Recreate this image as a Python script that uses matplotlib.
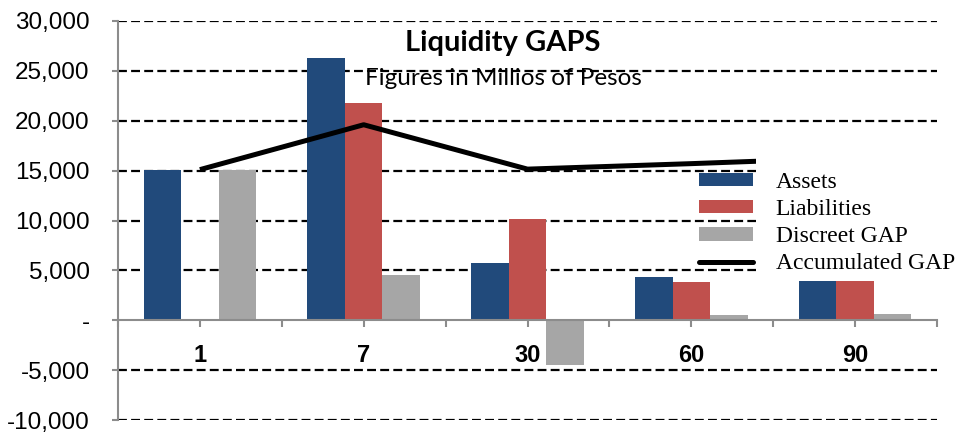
import matplotlib
matplotlib.use("Agg")
import matplotlib.pyplot as plt
from matplotlib.patches import Rectangle
from matplotlib.ticker import FuncFormatter, FixedLocator
import numpy as np

# data (millions of pesos)
categories = ["1", "7", "30", "60", "90"]
assets = [15100, 26300, 5700, 4350, 3950]
liabilities = [0, 21800, 10150, 3800, 3950]
discreet_gap = [15100, 4500, -4450, 550, 600]
accumulated_gap = [15100, 19600, 15150, 15700, 16300]

blue = "#214A7B"
red = "#C0504D"
gray = "#A6A6A6"
axis_gray = "#8C8C8C"

fig = plt.figure(figsize=(9.59, 4.32), dpi=100)
ax = fig.add_axes([118 / 959, 1 - 420 / 432, 819 / 959, 399 / 432])

x = np.arange(len(categories))
w = 0.229
b1 = ax.bar(x - w, assets, w, color=blue, label="Assets", zorder=2)
b2 = ax.bar(x, liabilities, w, color=red, label="Liabilities", zorder=2)
b3 = ax.bar(x + w, discreet_gap, w, color=gray, label="Discreet GAP", zorder=2)
ln, = ax.plot(x, accumulated_gap, color="black", lw=3.6, label="Accumulated GAP",
              zorder=3, solid_capstyle="butt")

ax.set_xlim(-0.5, len(categories) - 0.5)
ax.set_ylim(-10000, 30000)
ax.set_yticks(range(-10000, 30001, 5000))
ax.yaxis.set_major_formatter(FuncFormatter(lambda v, p: "-" if v == 0 else f"{v:,.0f}"))

# dashed gridlines except at zero (the category axis sits there)
for v in range(-10000, 30001, 5000):
    if v != 0:
        ax.axhline(v, color="black", lw=1.6, ls=(0, (4, 1.9)), zorder=1)

for s in ["top", "right"]:
    ax.spines[s].set_visible(False)
ax.spines["bottom"].set_position(("data", 0))
ax.spines["bottom"].set_color(axis_gray)
ax.spines["bottom"].set_linewidth(1.5)
ax.spines["left"].set_color(axis_gray)
ax.spines["left"].set_linewidth(1.5)
ax.spines["bottom"].set_zorder(2.5)

ax.set_xticks(x)
ax.set_xticklabels(categories)
ax.xaxis.set_minor_locator(FixedLocator(np.arange(-0.5, len(categories), 1.0)))
ax.tick_params(axis="x", which="both", direction="out", length=5, width=1.5,
               color=axis_gray, pad=12)
ax.tick_params(axis="y", direction="out", length=4.5, width=1.5, color=axis_gray, pad=16)
for t in ax.get_xticklabels():
    t.set_fontfamily("Liberation Sans")
    t.set_fontweight("bold")
    t.set_fontsize(17)
for t in ax.get_yticklabels():
    t.set_fontfamily("Liberation Sans")
    t.set_fontsize(17.5)

fig.text(503 / 959, 1 - 51 / 432, "Liquidity GAPS", ha="center", va="baseline",
         fontfamily="Lato", fontweight="bold", fontsize=21)
fig.text(503 / 959, 1 - 85 / 432, "Figures in Millios of Pesos", ha="center",
         va="baseline", fontfamily="Lato", fontsize=17.5)

# white legend area that hides the gridlines and the line behind it
ax.add_patch(Rectangle(((756 - 118) / 819, (420 - 275) / 399), 0.3, 120 / 399,
                       transform=ax.transAxes, facecolor="white", edgecolor="none",
                       zorder=4, clip_on=False))

leg = ax.legend([b1, b2, b3, ln], ["Assets", "Liabilities", "Discreet GAP", "Accumulated GAP"],
                loc="upper left", bbox_to_anchor=(699 / 959, 1 - 172 / 432),
                bbox_transform=fig.transFigure, frameon=False, borderpad=0,
                borderaxespad=0, handlelength=2.3, handleheight=0.5,
                handletextpad=0.95, labelspacing=0.26,
                prop={"family": "Liberation Serif", "size": 17})
leg.set_zorder(5)
for lh in leg.get_lines():
    lh.set_solid_capstyle("round")

fig.savefig("out.png", dpi=100)
